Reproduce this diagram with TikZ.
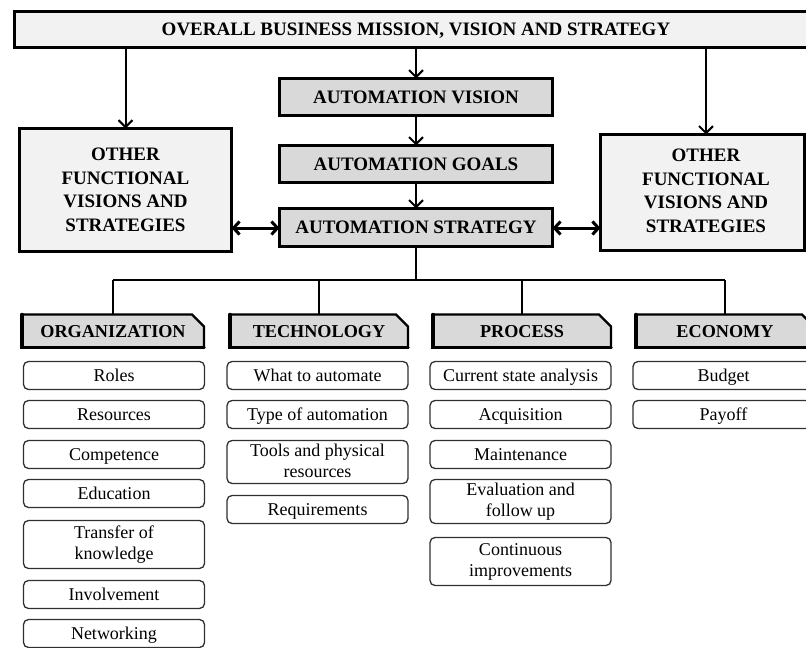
\documentclass[tikz,border=0pt]{standalone}
\usepackage{fontspec}
\setmainfont{Liberation Serif}
\usetikzlibrary{arrows.meta,shapes.misc}
\definecolor{lightfill}{HTML}{F2F2F2}
\definecolor{darkfill}{HTML}{D9D9D9}
\definecolor{itemline}{HTML}{303030}
\newcommand{\itemstrut}{\rule[-3pt]{0pt}{18pt}}
\begin{document}
\begin{tikzpicture}[x=1pt,y=-1pt,
  every node/.style={inner sep=0pt, outer sep=0pt, align=center},
  headfont/.style={font=\bfseries\fontsize{19}{23.5}\selectfont},
  capsline/.style={text height=12.5pt, text depth=0pt},
  topbox/.style={headfont, capsline, draw, line width=3pt, fill=lightfill},
  autobox/.style={headfont, capsline, draw, line width=3pt, fill=darkfill, minimum width=273pt},
  otherbox/.style={headfont, draw, line width=3pt, fill=lightfill},
  catbox/.style={font=\bfseries\fontsize{18.2}{22}\selectfont, text height=12pt, text depth=0pt,
     chamfered rectangle, chamfered rectangle corners=north east,
     chamfered rectangle xsep=6pt, chamfered rectangle ysep=6pt, chamfered rectangle angle=45,
     draw, line width=2.2pt, fill=darkfill, minimum height=33pt},
  itembox/.style={font=\fontsize{18}{21}\selectfont, draw=itemline, line width=1.3pt,
     rounded corners=5pt, fill=white, minimum width=181pt, minimum height=28pt,
     execute at begin node=\itemstrut, execute at end node=\itemstrut},
  arr/.style={line width=2pt, -{Straight Barb[length=7pt,width=14pt]}},
  dblarr/.style={line width=3pt, {Straight Barb[length=6pt,width=13pt]}-{Straight Barb[length=6pt,width=13pt]}},
  conn/.style={line width=2.2pt}
]
\useasboundingbox (0,0) rectangle (806,648);

% top level
\node[topbox, minimum width=803pt, minimum height=36pt] (top) at (416,29.5)
  {OVERALL BUSINESS MISSION, VISION AND STRATEGY};
\node[autobox, minimum height=37pt] (vision) at (416,97) {AUTOMATION VISION};
\node[autobox, minimum height=37pt] (goals) at (416,164) {AUTOMATION GOALS};
\node[autobox, minimum height=38pt] (strat) at (416,227.5) {AUTOMATION STRATEGY};
\node[otherbox, minimum width=212pt, minimum height=123pt] (otherL) at (125.5,190)
  {OTHER\\FUNCTIONAL\\VISIONS AND\\STRATEGIES};
\node[otherbox, minimum width=204pt, minimum height=116pt] (otherR) at (702.5,192.5)
  {\hspace*{7pt}\begin{tabular}{@{}c@{}}OTHER\\FUNCTIONAL\\VISIONS AND\\STRATEGIES\end{tabular}};

\coordinate (rarr) at (706,0);
\coordinate (hub) at (416,280);

\draw[arr] (top.south -| otherL.north) -- (otherL.north);
\draw[arr] (top.south) -- (vision.north);
\draw[arr] (top.south -| rarr) -- (otherR.north -| rarr);
\draw[arr] (vision.south) -- (goals.north);
\draw[arr] (goals.south) -- (strat.north);
\draw[dblarr] (otherL.east |- 0,228) -- (strat.west |- 0,228);
\draw[dblarr] (strat.east |- 0,228) -- (otherR.west |- 0,228);

% categories
\node[catbox, minimum width=182pt] (org) at (113,331) {ORGANIZATION};
\node[catbox, minimum width=178pt] (tech) at (319,331) {TECHNOLOGY};
\node[catbox, minimum width=178pt] (proc) at (522,331) {PROCESS};
\node[catbox, minimum width=178pt] (econ) at (725,331) {ECONOMY};
\foreach \n in {org,tech,proc,econ}{
  \draw[line width=3.5pt, line cap=round] (\n.north west) -- (\n.south west) -- (\n.south east);
}

\draw[conn] (strat.south) -- (hub);
\draw[conn] (hub -| org.north) -- (hub -| econ.north);
\foreach \n in {org,tech,proc,econ}{
  \draw[conn] (hub -| \n.north) -- (\n.north);
}

% organization items
\node[itembox] (roles) at (114,375.5) {Roles};
\node[itembox] (resources) at (114,414.5) {Resources};
\node[itembox] (competence) at (114,454.5) {Competence};
\node[itembox] (education) at (114,493.5) {Education};
\node[itembox, minimum height=48pt] (transfer) at (114,544.5) {Transfer of\\knowledge};
\node[itembox] (involvement) at (114,594.5) {Involvement};
\node[itembox] (networking) at (114,633.5) {Networking};

% technology items
\node[itembox] (what) at (317.5,375.5) {What to automate};
\node[itembox] (type) at (317.5,414.5) {Type of automation};
\node[itembox, minimum height=43pt] (tools) at (317.5,462) {Tools and physical\\resources};
\node[itembox] (req) at (317.5,509.5) {Requirements};

% process items
\node[itembox] (current) at (520.5,375.5) {Current state analysis};
\node[itembox] (acq) at (520.5,414.5) {Acquisition};
\node[itembox] (maint) at (520.5,454.5) {Maintenance};
\node[itembox, minimum height=44pt] (eval) at (520.5,501.5) {Evaluation and\\follow up};
\node[itembox, minimum height=48pt] (cont) at (520.5,561.5) {Continuous\\improvements};

% economy items
\node[itembox] (budget) at (723.5,375.5) {Budget};
\node[itembox] (payoff) at (723.5,414.5) {Payoff};
\end{tikzpicture}
\end{document}
